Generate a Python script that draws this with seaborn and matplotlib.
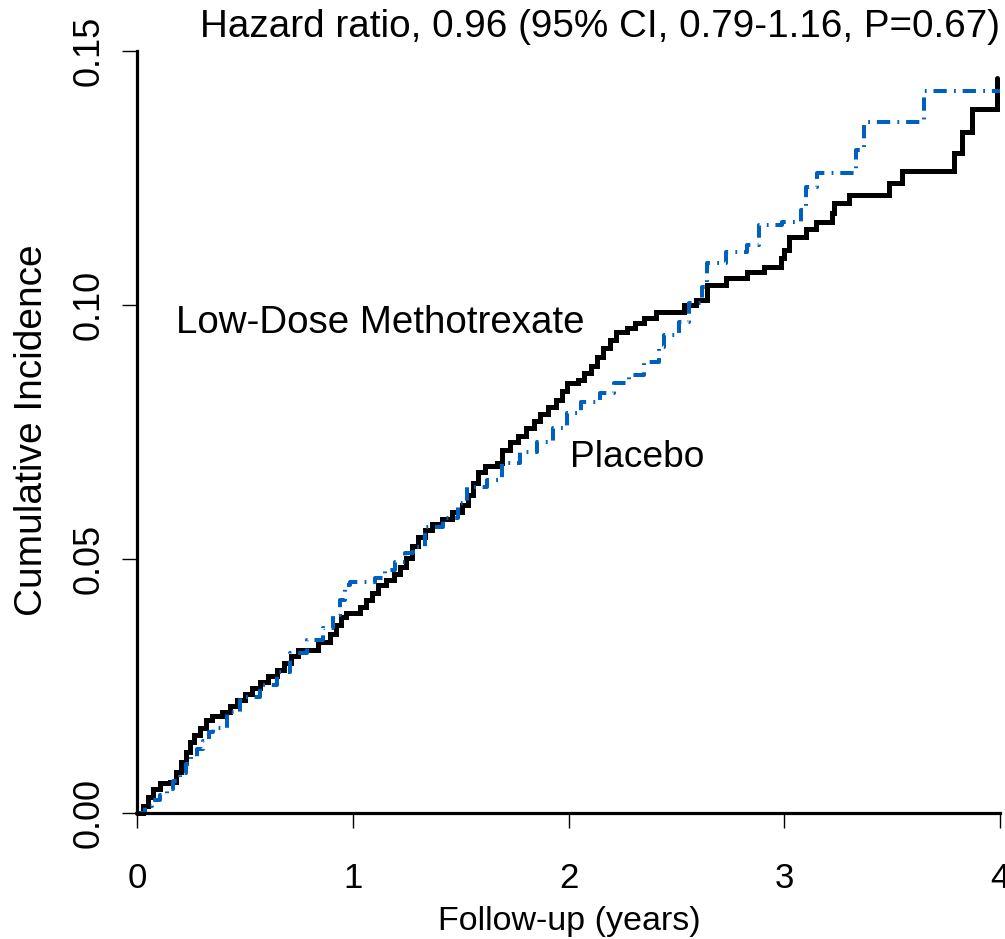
import numpy as np
import pandas as pd
import matplotlib
matplotlib.use("Agg")
import matplotlib.pyplot as plt
import seaborn as sns

# ---------------- data ----------------
mtx_time = [0.000, 0.028, 0.051, 0.074, 0.106, 0.153, 0.181, 0.204, 0.227, 0.245,
            0.264, 0.292, 0.319, 0.347, 0.394, 0.431, 0.463, 0.500, 0.532, 0.569,
            0.606, 0.648, 0.681, 0.713, 0.745, 0.838, 0.894, 0.921, 0.944, 0.968,
            1.032, 1.060, 1.088, 1.116, 1.153, 1.190, 1.218, 1.245, 1.273, 1.301,
            1.333, 1.366, 1.412, 1.458, 1.505, 1.532, 1.556, 1.579, 1.611, 1.667,
            1.694, 1.727, 1.764, 1.801, 1.838, 1.870, 1.903, 1.940, 1.972, 1.991,
            2.042, 2.074, 2.106, 2.134, 2.162, 2.194, 2.222, 2.269, 2.310, 2.352,
            2.407, 2.537, 2.593, 2.644, 2.731, 2.829, 2.907, 2.986, 3.000, 3.023,
            3.102, 3.148, 3.222, 3.231, 3.301, 3.486, 3.546, 3.787, 3.824, 3.870,
            3.986]
mtx_inc = [0.0000, 0.0014, 0.0031, 0.0047, 0.0059, 0.0061, 0.0081, 0.0100, 0.0120, 0.0140,
           0.0154, 0.0167, 0.0183, 0.0191, 0.0199, 0.0211, 0.0222, 0.0234, 0.0246, 0.0258,
           0.0270, 0.0281, 0.0295, 0.0309, 0.0321, 0.0337, 0.0352, 0.0370, 0.0386, 0.0394,
           0.0406, 0.0419, 0.0433, 0.0449, 0.0459, 0.0470, 0.0484, 0.0502, 0.0526, 0.0543,
           0.0557, 0.0569, 0.0579, 0.0593, 0.0606, 0.0626, 0.0650, 0.0671, 0.0683, 0.0689,
           0.0715, 0.0730, 0.0742, 0.0758, 0.0772, 0.0785, 0.0799, 0.0813, 0.0831, 0.0846,
           0.0852, 0.0866, 0.0880, 0.0898, 0.0915, 0.0931, 0.0947, 0.0955, 0.0965, 0.0974,
           0.0986, 0.1000, 0.1010, 0.1039, 0.1053, 0.1065, 0.1075, 0.1093, 0.1108, 0.1134,
           0.1150, 0.1163, 0.1181, 0.1201, 0.1217, 0.1240, 0.1264, 0.1299, 0.1341, 0.1386,
           0.1447]

pbo_time = [0.000, 0.037, 0.069, 0.106, 0.139, 0.167, 0.199, 0.227, 0.250, 0.278,
            0.306, 0.333, 0.352, 0.417, 0.477, 0.569, 0.648, 0.708, 0.787, 0.861,
            0.907, 0.940, 0.963, 0.986, 1.102, 1.148, 1.194, 1.241, 1.278, 1.333,
            1.417, 1.486, 1.528, 1.620, 1.694, 1.773, 1.852, 1.926, 1.991, 2.060,
            2.144, 2.213, 2.282, 2.352, 2.421, 2.444, 2.514, 2.560, 2.620, 2.644,
            2.731, 2.829, 2.884, 2.991, 3.079, 3.102, 3.153, 3.333, 3.370, 3.650,
            4.000]
pbo_inc = [0.0000, 0.0014, 0.0026, 0.0035, 0.0047, 0.0063, 0.0079, 0.0096, 0.0110, 0.0126,
           0.0142, 0.0159, 0.0167, 0.0199, 0.0228, 0.0252, 0.0278, 0.0315, 0.0341, 0.0364,
           0.0390, 0.0419, 0.0449, 0.0455, 0.0463, 0.0478, 0.0494, 0.0512, 0.0524, 0.0563,
           0.0581, 0.0610, 0.0642, 0.0656, 0.0689, 0.0711, 0.0730, 0.0758, 0.0787, 0.0809,
           0.0827, 0.0846, 0.0862, 0.0888, 0.0917, 0.0941, 0.0967, 0.1004, 0.1035, 0.1083,
           0.1104, 0.1118, 0.1157, 0.1163, 0.1187, 0.1232, 0.1260, 0.1305, 0.1360, 0.1421,
           0.1421]

x_ticks = [0, 1, 2, 3, 4]
x_tick_labels = ["0", "1", "2", "3", "4"]
y_ticks = [0.00, 0.05, 0.10, 0.15]
y_tick_labels = ["0.00", "0.05", "0.10", "0.15"]

title_text = "Hazard ratio, 0.96 (95% CI, 0.79-1.16, P=0.67)"
label_mtx = "Low-Dose Methotrexate"
label_pbo = "Placebo"

# ---------------- style ----------------
sns.set_theme(style="ticks")
plt.rcParams["font.family"] = ["Liberation Sans", "DejaVu Sans"]

W, H = 1005, 939
fig = plt.figure(figsize=(W / 100, H / 100), dpi=100)
ax = fig.add_axes([137 / W, 126 / H, 863 / W, 762 / H])

df_mtx = pd.DataFrame({"time": mtx_time, "inc": mtx_inc})
df_pbo = pd.DataFrame({"time": pbo_time, "inc": pbo_inc})

sns.lineplot(data=df_mtx, x="time", y="inc", ax=ax, estimator=None, sort=False,
             drawstyle="steps-post", color="black", linewidth=3.6,
             solid_joinstyle="miter", clip_on=False)
sns.lineplot(data=df_pbo, x="time", y="inc", ax=ax, estimator=None, sort=False,
             drawstyle="steps-post", color="#0060C0", linewidth=2.9,
             linestyle=(0, (3.3, 1.8, 0.45, 1.7)), clip_on=False)

ax.set_xlim(0, 4)
ax.set_ylim(0, 0.15)
ax.set_xticks(x_ticks)
ax.set_xticklabels(x_tick_labels)
ax.set_yticks(y_ticks)
ax.set_yticklabels(y_tick_labels)

for s in ["top", "right"]:
    ax.spines[s].set_visible(False)
for s in ["left", "bottom"]:
    ax.spines[s].set_linewidth(2.3)
    ax.spines[s].set_color("black")

ax.tick_params(axis="both", direction="out", length=11, width=1.0, color="black",
               labelsize=25, labelcolor="black")
ax.tick_params(axis="x", pad=24)
ax.tick_params(axis="y", pad=16.5, labelsize=26)

for lab in ax.get_yticklabels():
    lab.set_rotation(90)
    lab.set_rotation_mode("anchor")
    lab.set_ha("center")
    lab.set_va("baseline")

ax.set_xlabel("Follow-up (years)", fontsize=24.5, color="black")
ax.xaxis.label.set_va("baseline")
ax.xaxis.set_label_coords(569.5 / W, 1 - 930 / H, transform=fig.transFigure)

ax.set_ylabel("Cumulative Incidence", fontsize=28, color="black")
ax.yaxis.label.set_va("baseline")
ax.yaxis.set_label_coords(42 / W, 1 - 430.5 / H, transform=fig.transFigure)

fig.text(0.995, 1 - 37 / H, title_text, ha="right", va="baseline", fontsize=27.8, color="black")

ax.text(0.18, 0.0945, label_mtx, ha="left", va="baseline", fontsize=27.7, color="black")
ax.text(2.005, 0.0681, label_pbo, ha="left", va="baseline", fontsize=26.7, color="black")

fig.savefig("out.png", dpi=100, facecolor="white")
